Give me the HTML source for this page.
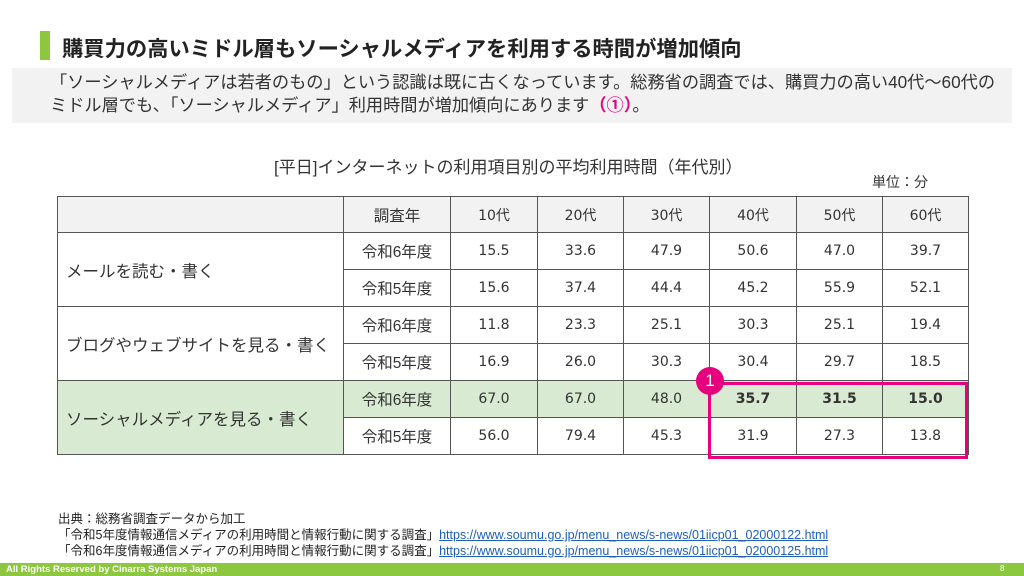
<!DOCTYPE html>
<html><head><meta charset="utf-8"><style>
body{margin:0;width:1024px;height:576px;position:relative;overflow:hidden;background:#fff;font-family:"Liberation Sans","Noto Sans CJK JP",sans-serif;color:#222}
.a{position:absolute;white-space:nowrap}
table{position:absolute;left:57px;top:196px;border-collapse:collapse;font-size:15px}
td{border:1px solid #555;text-align:center;padding:0;color:#333;font-family:"DejaVu Sans","Noto Sans CJK JP",sans-serif;font-size:14px}
td.j{font-family:"Liberation Sans","Noto Sans CJK JP",sans-serif;font-size:15.5px}
tr{height:37px}
.g td{background:#d9ead3}
.h td{background:#f2f2f2}
.l{text-align:left;padding-left:8px;font-family:"Liberation Sans","Noto Sans CJK JP",sans-serif!important;font-size:16.5px!important}
</style></head><body>
<div class="a" style="left:40px;top:31px;width:10px;height:29px;background:#8dc63f"></div>
<div class="a" style="left:62px;top:32px;font-size:21.3px;font-weight:bold;color:#222">購買力の高いミドル層もソーシャルメディアを利用する時間が増加傾向</div>
<div class="a" style="left:12px;top:68px;width:1000px;height:55px;background:#f2f2f2"></div>
<div class="a" style="left:50px;top:71px;font-size:17.2px;line-height:23px;color:#333">「ソーシャルメディアは若者のもの」という認識は既に古くなっています。総務省の調査では、購買力の高い40代～60代の<br>ミドル層でも、「ソーシャルメディア」利用時間が増加傾向にあります<b style="color:#e6007e">（①）</b>。</div>
<div class="a" style="left:274px;top:153px;font-size:17px;color:#333">[平日]インターネットの利用項目別の平均利用時間（年代別）</div>
<div class="a" style="left:872px;top:172px;font-size:14px;color:#333">単位：分</div>
<table>
<colgroup><col style="width:286px"><col style="width:107px"><col style="width:87px"><col style="width:86px"><col style="width:86px"><col style="width:87px"><col style="width:86px"><col style="width:86px"></colgroup>
<tr class="h" style="height:36px"><td></td><td class="j">調査年</td><td>10代</td><td>20代</td><td>30代</td><td>40代</td><td>50代</td><td>60代</td></tr>
<tr><td class="l" rowspan="2">メールを読む・書く</td><td class="j">令和6年度</td><td>15.5</td><td>33.6</td><td>47.9</td><td>50.6</td><td>47.0</td><td>39.7</td></tr>
<tr><td class="j">令和5年度</td><td>15.6</td><td>37.4</td><td>44.4</td><td>45.2</td><td>55.9</td><td>52.1</td></tr>
<tr><td class="l" rowspan="2">ブログやウェブサイトを見る・書く</td><td class="j">令和6年度</td><td>11.8</td><td>23.3</td><td>25.1</td><td>30.3</td><td>25.1</td><td>19.4</td></tr>
<tr><td class="j">令和5年度</td><td>16.9</td><td>26.0</td><td>30.3</td><td>30.4</td><td>29.7</td><td>18.5</td></tr>
<tr class="g"><td class="l" rowspan="2">ソーシャルメディアを見る・書く</td><td class="j">令和6年度</td><td>67.0</td><td>67.0</td><td>48.0</td><td><b>35.7</b></td><td><b>31.5</b></td><td><b>15.0</b></td></tr>
<tr><td class="j">令和5年度</td><td>56.0</td><td>79.4</td><td>45.3</td><td>31.9</td><td>27.3</td><td>13.8</td></tr>
</table>
<div class="a" style="left:708px;top:382px;width:254px;height:71px;border:3px solid #e6007e"></div>
<div class="a" style="left:696px;top:367px;width:28px;height:28px;border-radius:50%;background:#e6007e;color:#fff;font-size:17px;line-height:28px;text-align:center">1</div>
<div class="a" style="left:58px;top:511px;font-size:12.5px;line-height:16px;color:#222">出典：総務省調査データから加工<br>「令和5年度情報通信メディアの利用時間と情報行動に関する調査」<span style="color:#1f5fbf;text-decoration:underline">https://www.soumu.go.jp/menu_news/s-news/01iicp01_02000122.html</span><br>「令和6年度情報通信メディアの利用時間と情報行動に関する調査」<span style="color:#1f5fbf;text-decoration:underline">https://www.soumu.go.jp/menu_news/s-news/01iicp01_02000125.html</span></div>
<div class="a" style="left:0;top:563px;width:1024px;height:13px;background:#8dc63f"></div>
<div class="a" style="left:6px;top:564px;font-size:9.5px;font-weight:bold;color:#fff">All Rights Reserved by Cinarra Systems Japan</div>
<div class="a" style="left:1000px;top:564px;font-size:8px;color:#fff">8</div>
</body></html>
